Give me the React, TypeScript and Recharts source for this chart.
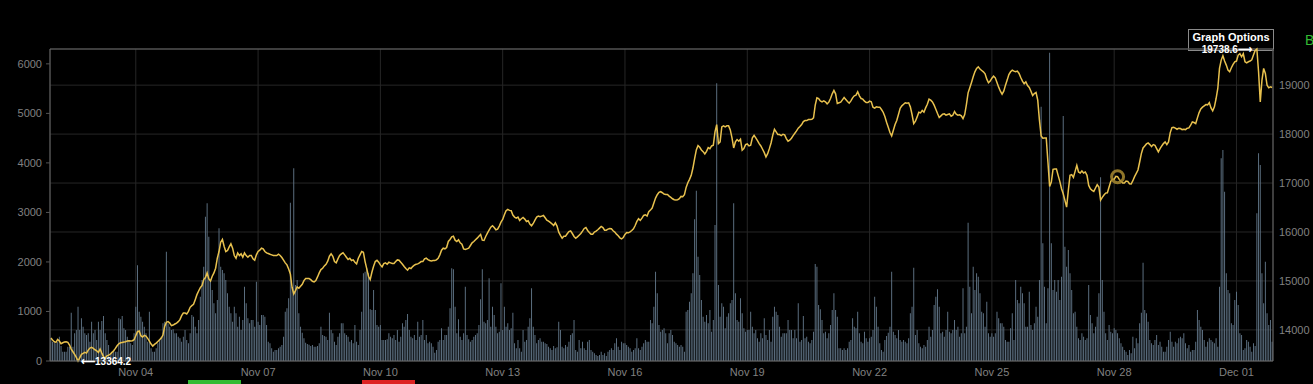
import React from "react";
import {
  ComposedChart,
  Bar,
  Line,
  XAxis,
  YAxis,
  CartesianGrid,
  ReferenceDot,
  ReferenceLine,
} from "recharts";

// hourly candles, first one is Nov 01 22:00 UTC
const startTime = Date.UTC(2020, 10, 1, 22);

const price = [
  13833,13792,13758,13744,13806,13771,13717,13737,13751,13758,13744,13690,13608,13553,13499,13437,13364.2,13430,13499,13519,13540,13526,13587,13628,
  13642,13621,13594,13574,13540,13608,13526,13451,13423,13471,13485,13506,13540,13574,13621,13676,13717,13737,13744,13751,13758,13771,13778,13771,
  13778,13799,13881,13963,13977,13881,13853,13888,13874,13826,13771,13710,13669,13703,13730,13764,13799,13833,13894,14072,14154,14168,14140,14086,
  14099,14120,14140,14168,14209,14291,14345,14345,14325,14379,14461,14495,14522,14618,14720,14795,14864,14905,15028,15069,15164,15041,15000,15096,
  15164,15260,15464,15601,15792,15847,15710,15601,15621,15697,15758,15669,15519,15464,15573,15519,15553,15485,15573,15519,15485,15519,15519,15451,
  15424,15533,15601,15628,15669,15656,15601,15573,15560,15546,15533,15519,15519,15519,15546,15519,15478,15424,15369,15328,15246,15143,14870,14734,
  14802,14877,14850,14891,14932,15007,15048,15048,15048,15027,14993,14980,15007,15082,15164,15232,15260,15307,15341,15403,15505,15553,15505,15396,
  15369,15451,15519,15553,15574,15533,15485,15437,15464,15417,15430,15383,15348,15464,15533,15601,15587,15396,15246,15096,15027,15178,15300,15396,
  15424,15383,15328,15287,15355,15369,15341,15383,15369,15355,15355,15396,15430,15424,15383,15341,15294,15253,15219,15267,15253,15294,15321,15341,
  15348,15369,15396,15396,15451,15464,15437,15417,15410,15417,15417,15430,15464,15533,15628,15669,15656,15683,15806,15847,15901,15915,15833,15806,
  15840,15779,15751,15656,15642,15656,15669,15724,15779,15806,15840,15874,15915,15949,15833,15826,15908,15976,16038,16099,16127,16092,16045,16058,
  16120,16202,16256,16352,16434,16461,16441,16434,16345,16304,16283,16304,16236,16270,16297,16263,16215,16229,16161,16127,16174,16243,16304,16325,
  16311,16325,16338,16290,16243,16222,16195,16167,16133,16188,16120,15997,15929,15874,15915,15915,15963,16010,16024,15969,15908,15874,15901,15935,
  15969,16017,16072,16092,16031,15990,15956,15956,15997,16017,16045,16079,16113,16092,16038,16038,16058,16072,16065,16024,15997,15956,15922,15881,
  15860,15888,15949,15990,15983,16004,16031,16065,16133,16215,16270,16236,16283,16338,16352,16325,16413,16447,16488,16591,16693,16761,16809,16823,
  16802,16775,16768,16768,16734,16707,16679,16659,16652,16659,16679,16727,16720,16761,16911,17007,17075,17157,17307,17498,17676,17765,17731,17676,
  17642,17594,17649,17724,17703,17758,17772,18045,18195,17806,17840,18147,18168,18147,18168,18168,18086,17922,17717,17840,17888,17854,17895,17669,
  17703,17785,17799,17758,17772,17922,17976,17922,17867,17806,17758,17690,17621,17533,17601,17703,17819,17976,18099,18045,17990,17990,17970,17997,
  17983,17908,17854,17874,17915,17970,18017,18065,18120,18154,18195,18256,18277,18277,18297,18297,18304,18331,18591,18741,18727,18679,18659,18679,
  18659,18618,18652,18727,18823,18891,18823,18625,18639,18652,18700,18748,18707,18666,18632,18679,18741,18782,18795,18864,18782,18727,18714,18673,
  18645,18645,18673,18659,18550,18529,18557,18550,18550,18502,18447,18359,18243,18140,18031,17963,18079,18195,18277,18400,18529,18577,18611,18639,
  18632,18639,18557,18400,18215,18263,18352,18447,18434,18482,18447,18536,18611,18714,18693,18659,18591,18509,18420,18338,18372,18406,18413,18386,
  18400,18413,18365,18386,18461,18406,18386,18393,18372,18318,18400,18604,18843,18946,19055,19171,19273,19341,19375,19328,19300,19273,19232,19123,
  19048,19082,19143,19184,19150,19055,18959,18877,18816,18877,19000,19103,19218,19273,19307,19286,19273,19286,19239,19157,19082,19027,19068,18993,
  18952,18877,18789,18830,18850,18693,18284,17963,17915,17922,17922,17430,16932,17021,17280,17287,17287,17157,17034,16884,16782,16645,16509,16850,
  17157,17171,17116,17239,17362,17226,17205,17246,17205,17226,17157,16952,16884,16850,16829,16898,16966,16918,16652,16707,16754,16795,16802,16918,
  17034,17075,17075,17137,17130,17075,17034,17000,17000,17041,17034,16986,16980,17048,17130,17198,17267,17430,17601,17717,17758,17799,17819,17785,
  17744,17785,17772,17703,17635,17703,17758,17806,17840,17785,17840,18031,18133,18140,18120,18099,18120,18113,18092,18099,18092,18120,18127,18181,
  18249,18236,18215,18331,18440,18515,18550,18577,18604,18598,18645,18536,18475,18557,18727,18932,19341,19512,19601,19492,19410,19307,19273,19355,
  19423,19478,19492,19614,19642,19580,19642,19478,19457,19478,19492,19519,19614,19710,19738.6,19273,18659,19103,19341,19239,19000,18946,18966,18952,
];

const volume = [
  458,390,390,357,390,491,303,188,188,188,289,289,976,289,559,626,1097,626,861,693,559,525,559,390,
  794,559,626,424,794,626,808,909,559,424,323,121,155,222,188,188,861,841,909,660,626,491,424,357,
  323,559,1097,1932,996,895,794,693,559,390,996,256,188,188,256,357,424,491,760,794,2207,760,693,626,
  639,559,559,491,458,390,491,626,424,357,559,929,895,693,559,828,1299,1635,1905,2914,3183,2510,1635,1433,
  1164,962,1232,2679,1905,1837,1770,1635,1366,1097,962,794,1097,962,693,895,626,828,1501,1164,861,760,828,828,
  693,1602,794,727,929,929,895,727,390,357,256,188,222,222,256,289,323,491,996,1063,1265,3197,1501,3890,
  1534,1635,962,693,572,458,370,343,330,303,323,289,289,303,357,693,525,505,491,424,976,626,559,390,
  323,491,559,760,760,559,525,491,390,424,357,727,390,323,626,996,1770,1804,1871,1770,1043,1030,1433,1030,
  727,693,727,424,424,424,437,559,491,458,525,424,626,390,491,760,693,828,949,626,491,458,525,424,
  794,491,525,828,424,525,357,390,357,289,168,222,390,424,660,424,525,525,693,1063,1871,1851,1097,559,
  841,491,424,559,1501,525,437,390,424,491,525,559,727,1245,1851,794,760,828,1669,693,1097,929,693,559,
  592,1568,626,1097,693,760,626,660,976,357,256,424,256,188,626,390,424,693,861,1467,693,525,357,424,
  458,390,390,357,343,289,256,222,303,256,276,794,626,289,256,323,289,390,525,559,828,222,188,424,
  256,390,256,222,390,424,222,188,155,121,101,121,188,121,155,101,188,222,256,222,357,458,289,222,
  390,357,357,323,289,256,188,222,256,458,256,222,289,357,424,390,390,828,760,1097,1804,1366,727,592,
  626,660,559,357,559,626,525,390,357,323,289,323,289,188,996,1030,1198,1366,1770,2860,3439,2106,1736,1232,
  895,794,929,760,1030,592,828,2746,5606,1534,895,1164,1097,660,895,962,1164,1232,3183,1366,828,794,1265,962,
  660,592,626,626,996,693,559,626,458,390,559,458,861,525,424,626,390,895,1097,996,929,693,491,559,
  559,559,828,626,626,458,626,458,1164,390,424,909,458,491,390,357,424,592,1958,1905,1131,1043,828,559,
  592,458,559,727,1030,1366,1030,895,256,256,222,256,222,256,390,424,861,693,660,996,559,390,357,592,
  458,390,458,491,626,1299,1097,693,357,222,188,424,505,572,693,1804,592,525,458,626,424,390,424,390,
  357,458,962,1097,1884,525,626,357,289,256,323,289,424,693,491,626,1131,1299,1447,1097,559,592,491,626,
  996,592,559,626,828,626,693,491,559,1467,559,693,2793,1501,962,1905,1433,1770,1703,1366,996,962,693,1198,
  559,491,559,491,559,996,861,760,760,693,424,390,390,660,962,424,1635,1232,1164,1501,1366,1164,693,693,
  1400,727,626,760,1097,895,1635,5135,2376,1501,760,1467,6225,2376,1433,1635,1400,1635,1232,1703,4947,2308,1905,2241,
  1770,1433,962,996,693,458,424,559,491,424,458,1534,929,760,559,693,895,1366,3708,1635,996,559,424,727,
  592,559,660,626,559,458,357,289,222,188,121,222,155,491,256,458,357,760,976,1985,1030,962,794,424,
  357,323,424,525,323,390,289,188,188,289,424,592,390,289,390,357,458,491,458,559,357,256,323,188,
  222,222,390,1030,828,693,626,424,289,390,458,424,390,357,458,289,1501,4092,4260,3419,1770,1433,1366,760,
  727,1232,1400,1131,559,525,222,256,424,390,289,188,357,303,2981,4193,3957,1770,1164,2006,962,727,828,390,
];

const xTickDates = ["2020-11-04", "2020-11-07", "2020-11-10", "2020-11-13", "2020-11-16", "2020-11-19", "2020-11-22", "2020-11-25", "2020-11-28", "2020-12-01"];
const xTickLabels = ["Nov 04", "Nov 07", "Nov 10", "Nov 13", "Nov 16", "Nov 19", "Nov 22", "Nov 25", "Nov 28", "Dec 01"];
const volumeTicks = [0, 1000, 2000, 3000, 4000, 5000, 6000];
const priceTicks = [14000, 15000, 16000, 17000, 18000, 19000];

const minPrice = Math.min(...price);
const maxPrice = Math.max(...price);
const minIdx = price.indexOf(minPrice);
const maxIdx = price.indexOf(maxPrice);
const hoverIdx = 628;

const rows = price.map((p, i) => ({ i, p, v: volume[i] ?? 0 }));
const tickIdx = xTickDates.map((d) => Math.round((Date.parse(d + "T00:00:00Z") - startTime) / 3600e3));
const tickText = (i: number) => xTickLabels[tickIdx.indexOf(i)] ?? "";

const axisFont = {
  fill: "#808080",
  stroke: "none",
  fontSize: 11,
  fontFamily: "Arial, 'Liberation Sans', sans-serif",
};
const noteFont = { fill: "#ffffff", fontSize: 10, fontWeight: 700, fontFamily: "Arial, 'Liberation Sans', sans-serif" };

export default function App() {
  return (
    <div
      style={{
        position: "absolute",
        left: 0,
        top: 0,
        width: 1313,
        height: 384,
        background: "#000",
        overflow: "hidden",
        fontFamily: "Arial, 'Liberation Sans', sans-serif",
      }}
    >
      <div
        style={{
          position: "absolute",
          left: 1188,
          top: 29,
          width: 84,
          height: 20,
          border: "1px solid #8a8a8a",
          color: "#fff",
          fontSize: 11,
          fontWeight: 700,
          textAlign: "center",
          lineHeight: "15px",
        }}
      >
        Graph Options
      </div>
      <div style={{ position: "absolute", left: 1305, top: 32, color: "#33bb33", fontSize: 14 }}>B</div>
      <div style={{ position: "absolute", left: 188, top: 380, width: 53, height: 4, background: "#33bb33" }} />
      <div style={{ position: "absolute", left: 362, top: 380, width: 53, height: 4, background: "#dd2222" }} />
      <div style={{ position: "absolute", left: 0, top: 0 }}>
        <ComposedChart
          width={1313}
          height={384}
          data={rows}
          margin={{ top: 49, right: 0, bottom: 0, left: 0 }}
          barCategoryGap="22%"
        >
          <CartesianGrid yAxisId="right" stroke="#262626" />
          <XAxis
            dataKey="i"
            type="category"
            ticks={tickIdx}
            interval={0}
            tickFormatter={tickText}
            height={23}
            tick={axisFont}
            tickLine={false}
            tickSize={4}
            tickMargin={3}
            stroke="#6a6a6a"
          />
          <YAxis
            yAxisId="left"
            orientation="left"
            width={50}
            domain={[0, 6300]}
            ticks={volumeTicks}
            tick={axisFont}
            tickSize={4}
            tickMargin={4}
            stroke="#6a6a6a"
            tickLine={{ stroke: "#555" }}
          />
          <YAxis
            yAxisId="right"
            orientation="right"
            width={40}
            domain={[minPrice, maxPrice]}
            ticks={priceTicks}
            tick={axisFont}
            tickSize={5}
            tickMargin={1}
            tickLine={false}
            stroke="#6a6a6a"
          />
          <ReferenceLine yAxisId="right" y={maxPrice} stroke="#6a6a6a" />
          <Bar yAxisId="left" dataKey="v" fill="#5f7385" isAnimationActive={false} />
          <Line
            yAxisId="right"
            dataKey="p"
            type="linear"
            stroke="#e8c14e"
            strokeWidth={1.5}
            dot={false}
            isAnimationActive={false}
          />
          <ReferenceDot
            yAxisId="right"
            x={hoverIdx}
            y={price[hoverIdx]}
            r={6}
            fill="none"
            stroke="#a88a30"
            strokeWidth={3}
            strokeOpacity={0.85}
          />
          <ReferenceDot
            yAxisId="right"
            x={maxIdx}
            y={maxPrice}
            r={0}
            stroke="none"
            label={{ value: maxPrice.toFixed(1) + "\u27F6", position: "left", offset: 5, ...noteFont }}
          />
          <ReferenceDot
            yAxisId="right"
            x={minIdx}
            y={minPrice}
            r={0}
            stroke="none"
            label={{ value: "\u27F5" + minPrice.toFixed(1), position: "right", offset: 3, ...noteFont }}
          />
        </ComposedChart>
      </div>
    </div>
  );
}
